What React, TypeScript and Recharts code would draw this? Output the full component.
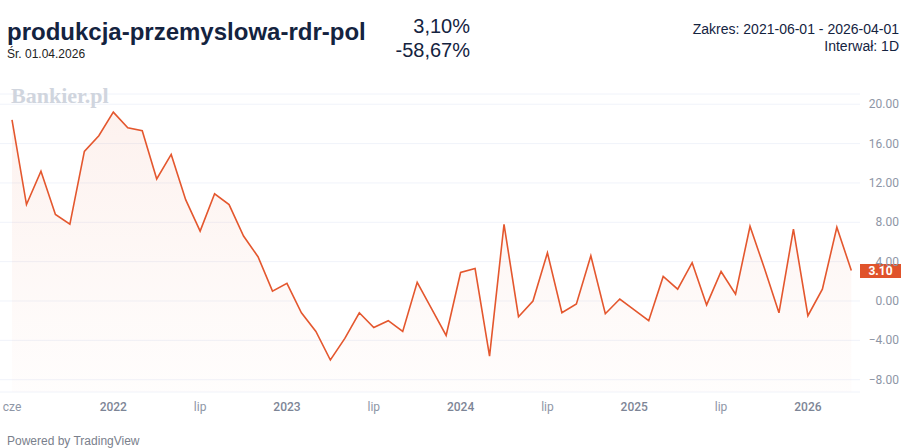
import React from 'react'
import { AreaChart, Area, XAxis, YAxis, CartesianGrid, ReferenceLine } from 'recharts'

// monthly readings, cze 2021 .. kwi 2026
const months = [
  '2021-06', '2021-07', '2021-08', '2021-09', '2021-10', '2021-11', '2021-12',
  '2022-01', '2022-02', '2022-03', '2022-04', '2022-05', '2022-06', '2022-07', '2022-08', '2022-09', '2022-10', '2022-11', '2022-12',
  '2023-01', '2023-02', '2023-03', '2023-04', '2023-05', '2023-06', '2023-07', '2023-08', '2023-09', '2023-10', '2023-11', '2023-12',
  '2024-01', '2024-02', '2024-03', '2024-04', '2024-05', '2024-06', '2024-07', '2024-08', '2024-09', '2024-10', '2024-11', '2024-12',
  '2025-01', '2025-02', '2025-03', '2025-04', '2025-05', '2025-06', '2025-07', '2025-08', '2025-09', '2025-10', '2025-11', '2025-12',
  '2026-01', '2026-02', '2026-03', '2026-04',
]

const values2021 = [18.4, 9.8, 13.2, 8.8, 7.8, 15.2, 16.8]
const values2022 = [19.2, 17.6, 17.3, 12.4, 14.9, 10.3, 7.1, 10.9, 9.8, 6.6, 4.5, 1.0]
const values2023 = [1.8, -1.2, -3.1, -6.0, -3.8, -1.2, -2.7, -2.0, -3.1, 1.9, -0.8, -3.5]
const values2024 = [2.9, 3.3, -5.6, 7.8, -1.6, 0.0, 4.9, -1.2, -0.3, 4.6, -1.3, 0.2]
const values2025 = [-0.9, -2.0, 2.5, 1.2, 3.9, -0.4, 3.0, 0.7, 7.6, 3.3, -1.2, 7.3]
const values2026 = [-1.5, 1.2, 7.5, 3.1]

const xTickMonths = ['2021-06', '2022-01', '2022-07', '2023-01', '2023-07', '2024-01', '2024-07', '2025-01', '2025-07', '2026-01']
const xTickLabels = ['cze', '2022', 'lip', '2023', 'lip', '2024', 'lip', '2025', 'lip', '2026']
const yTicks = [-8, -4, 0, 4, 8, 12, 16, 20]

const allValues = [...values2021, ...values2022, ...values2023, ...values2024, ...values2025, ...values2026]
const data = months.map((m, i) => ({ i, month: m, value: allValues[i] }))
const xTicks = xTickMonths.map((m) => months.indexOf(m))
const lastValue = allValues[allValues.length - 1]

const LINE = '#e4572e'
const AXIS_TEXT = '#8e96a6'

const XTick = (props: any) => {
  const { x, y, payload } = props
  const label = xTickLabels[xTicks.indexOf(payload.value)]
  const isYear = /^\d+$/.test(label)
  return (
    <text x={x} y={y + 19} textAnchor="middle" fontSize={12} fontFamily="Roboto"
      fontWeight={isYear ? 500 : 400} fill={isYear ? '#7d8596' : AXIS_TEXT}>
      {label}
    </text>
  )
}

const YTick = (props: any) => {
  const { x, y, payload } = props
  const v: number = payload.value
  const txt = (v < 0 ? '\u2212' : '') + Math.abs(v).toFixed(2)
  return (
    <text x={x + 39} y={y + 4} textAnchor="end" fontSize={12} fontFamily="Roboto" fill={AXIS_TEXT}>
      {txt}
    </text>
  )
}

const PriceTag = (props: any) => {
  const { viewBox } = props
  const left = viewBox.x + viewBox.width
  return (
    <g>
      <rect x={left} y={viewBox.y - 6.5} width={41} height={14} fill="#e0532b" />
      <text x={left + 20.5} y={viewBox.y + 4.5} textAnchor="middle" fontSize={12} fontWeight={700}
        fontFamily="Roboto" fill="#ffffff">
        {lastValue.toFixed(2)}
      </text>
    </g>
  )
}

const App = () => {
  return (
    <div style={{ position: 'absolute', left: 0, top: 0, width: 906, height: 448, background: '#fff', fontFamily: '"Liberation Sans", Arial, sans-serif' }}>
      <AreaChart width={906} height={448} data={data} margin={{ top: 94, right: 0, left: 0, bottom: 26 }}>
        <defs>
          <linearGradient id="fillGrad" x1="0" y1="0" x2="0" y2="1">
            <stop offset="0%" stopColor={LINE} stopOpacity={0.13} />
            <stop offset="100%" stopColor={LINE} stopOpacity={0.02} />
          </linearGradient>
        </defs>
        <CartesianGrid stroke="#f0f3fa" vertical={false} />
        <XAxis dataKey="i" type="number" domain={[-0.83, 58.6]} ticks={xTicks} tick={<XTick />}
          axisLine={false} tickLine={false} tickSize={0} tickMargin={0} height={30} allowDataOverflow interval={0} />
        <YAxis orientation="right" type="number" domain={[-9.25, 21.04]} ticks={yTicks} tick={<YTick />}
          axisLine={false} tickLine={false} tickSize={0} tickMargin={0} width={46} allowDataOverflow interval={0} />
        <Area type="linear" dataKey="value" stroke={LINE} strokeWidth={1.6} fill="url(#fillGrad)"
          baseValue="dataMin" isAnimationActive={false} dot={false} activeDot={false} />
        <ReferenceLine y={lastValue} stroke="none" label={<PriceTag />} />
      </AreaChart>

      <div style={{ position: 'absolute', left: 7, top: 18, fontSize: 24, fontWeight: 700, color: '#14233f' }}>
        produkcja-przemyslowa-rdr-pol
      </div>
      <div style={{ position: 'absolute', left: 7, top: 47, fontSize: 12, color: '#222' }}>Śr. 01.04.2026</div>
      <div style={{ position: 'absolute', right: 436, top: 14, fontSize: 20, color: '#14233f', textAlign: 'right', lineHeight: '24px' }}>
        <div>3,10%</div>
        <div>-58,67%</div>
      </div>
      <div style={{ position: 'absolute', right: 7, top: 21, fontSize: 14, color: '#14233f', textAlign: 'right', lineHeight: '17px' }}>
        <div>Zakres: 2021-06-01 - 2026-04-01</div>
        <div>Interwał: 1D</div>
      </div>
      <div style={{ position: 'absolute', left: 11, top: 83, fontSize: 22, fontWeight: 700, color: '#d0d5de', fontFamily: '"Liberation Serif", "DejaVu Serif", serif' }}>
        Bankier.pl
      </div>
      <div style={{ position: 'absolute', left: 7, top: 434, fontSize: 12, color: '#7a808c' }}>Powered by TradingView</div>
    </div>
  )
}

export default App
